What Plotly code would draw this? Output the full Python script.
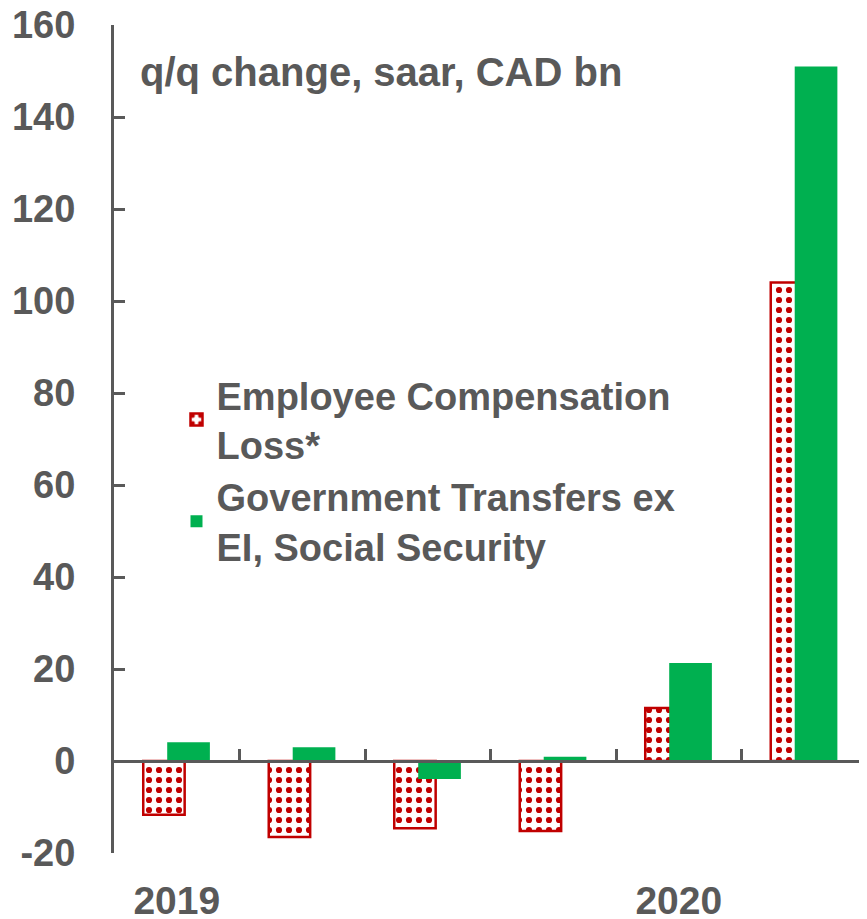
import plotly.graph_objects as go

quarters = ["2019Q1", "2019Q2", "2019Q3", "2019Q4", "2020Q1", "2020Q2"]
comp_loss = [-11.7, -16.5, -14.6, -15.2, 11.5, 104.0]
gov_transfers = [4.1, 3.0, -3.9, 0.9, 21.3, 151.0]
year_ticks = ["2019Q1", "2020Q1"]
year_labels = ["2019", "2020"]
y_ticks = [-20, 0, 20, 40, 60, 80, 100, 120, 140, 160]
y_labels = ["-20", "0", "20", "40", "60", "80", "100", "120", "140", "160"]
boundaries = [0.5, 1.5, 2.5, 3.5, 4.5]

grey = "#595959"
red = "#C00000"
green = "#00B050"
font = "Liberation Sans, Arial, sans-serif"

fig = go.Figure()
fig.add_trace(go.Bar(
    x=quarters, y=comp_loss, name="Employee Compensation<br>Loss*",
    width=0.33, offset=-0.267,
    marker=dict(color="white", line=dict(color=red, width=2.5),
                pattern=dict(shape=".", fgcolor=red, fgopacity=1, bgcolor="white",
                             size=10, solidity=0.3)),
))
fig.add_trace(go.Bar(
    x=quarters, y=gov_transfers, name="Government Transfers ex<br>EI, Social Security",
    width=0.34, offset=-0.076,
    marker=dict(color=green, line=dict(width=0)),
))
# invisible trace so the zero-line axis (x2) gets drawn
fig.add_trace(go.Scatter(x=[boundaries[0]], y=[0], xaxis="x2", mode="none",
                         showlegend=False, hoverinfo="skip"))

# page body adds an 8px margin, so the figure is 8px smaller than the window
fig.update_layout(
    width=859, height=911,
    margin=dict(l=106, r=0, t=17, b=66),
    plot_bgcolor="white", paper_bgcolor="white",
    barmode="overlay",
    font=dict(family=font, color=grey, size=38, weight="bold"),
    legend=dict(x=0.083, y=0.591, xanchor="left", yanchor="top",
                font=dict(size=38, color=grey, weight="bold"),
                bgcolor="rgba(0,0,0,0)", traceorder="normal"),
    xaxis=dict(type="category", categoryorder="array", categoryarray=quarters,
               range=[-0.5, 5.5], tickvals=year_ticks, ticktext=year_labels,
               ticks="outside", ticklen=13, tickcolor="rgba(0,0,0,0)", automargin=False,
               ticklabeloverflow="allow",
               showline=False, showgrid=False, zeroline=False,
               tickfont=dict(size=39, color=grey, weight="bold")),
    xaxis2=dict(overlaying="x", anchor="free", position=20 / 180, side="top",
                range=[-0.5, 5.5], tickvals=boundaries, automargin=False,
                showticklabels=False, ticks="outside", ticklen=11, tickwidth=3,
                tickcolor=grey, showline=True, linecolor=grey, linewidth=3,
                showgrid=False, zeroline=False),
    yaxis=dict(range=[-20, 160], tickvals=y_ticks, ticktext=y_labels,
               ticks="inside", ticklen=11, tickwidth=3,
               tickcolor=grey, showline=True, linecolor=grey, linewidth=3, automargin=False,
               showgrid=False, zeroline=False, ticklabelstandoff=28,
               ticklabeloverflow="allow",
               tickfont=dict(size=38, color=grey, weight="bold")),
)

fig.add_annotation(text="q/q change, saar, CAD bn", xref="paper", yref="paper",
                   x=0.032, y=0.943, xanchor="left", yanchor="middle", showarrow=False,
                   font=dict(size=40, color=grey, weight="bold"))

fig.write_html("out.html")
